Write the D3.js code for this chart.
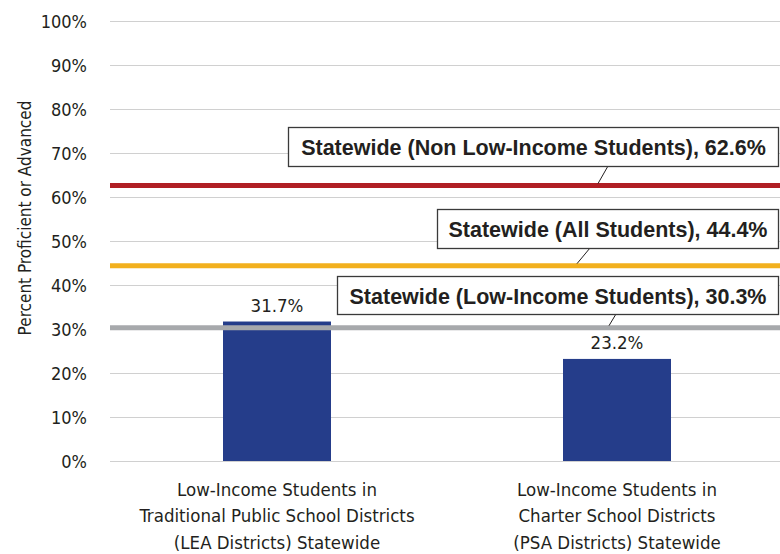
<!DOCTYPE html>
<html><head><meta charset="utf-8">
<script src="https://cdn.jsdelivr.net/npm/d3@7"></script>
<style>
body{margin:0;background:#fff;}
.cond{font-family:"Liberation Sans Narrow","DejaVu Sans Condensed",sans-serif;fill:#231f20;}
.bold{font-family:"Liberation Sans",Arial,sans-serif;font-weight:bold;fill:#231f20;}
</style></head>
<body><svg id="c" width="780" height="554"></svg>
<script>
const categories = [
  ["Low-Income Students in","Traditional Public School Districts","(LEA Districts) Statewide"],
  ["Low-Income Students in","Charter School Districts","(PSA Districts) Statewide"]
];
const barValues = [31.7, 23.2];
const refNames = ["Statewide (Non Low-Income Students)","Statewide (All Students)","Statewide (Low-Income Students)"];
const refValues = [62.6, 44.4, 30.3];
const refColors = ["#b01f24","#f2b01e","#a7a9ac"];
const yTicks = [0,10,20,30,40,50,60,70,80,90,100];

const svg = d3.select("#c");
const y = d3.scaleLinear().domain([0,100]).range([461,21]);
const x = d3.scaleBand().domain(d3.range(categories.length)).range([107,787]);
const bw = 108;

// gridlines
svg.append("g").selectAll("line").data(yTicks).join("line")
  .attr("x1",110).attr("x2",780).attr("y1",d=>Math.round(y(d))+0.5).attr("y2",d=>Math.round(y(d))+0.5)
  .attr("stroke","#d0d0d0").attr("stroke-width",1);

// y axis labels
const yAxis = d3.axisLeft(y).tickValues(yTicks).tickFormat(d=>d+"%").tickSize(0).tickPadding(0);
const ga = svg.append("g").attr("transform","translate(87,0)").call(yAxis);
ga.select(".domain").remove();
ga.selectAll("text").attr("class","cond").attr("font-size",18).attr("dy","0.35em");
ga.attr("font-family",null).attr("font-size",null);

svg.append("text").attr("class","cond").attr("font-size",17)
  .attr("transform","translate(31,218) rotate(-90)").attr("text-anchor","middle")
  .text("Percent Proficient or Advanced");

// bars
svg.append("g").selectAll("rect").data(barValues).join("rect")
  .attr("x",(d,i)=>x(i)+x.bandwidth()/2-bw/2).attr("width",bw)
  .attr("y",d=>y(d)).attr("height",d=>y(0)-y(d)).attr("fill","#253d8a");

svg.append("g").selectAll("text").data(barValues).join("text")
  .attr("class","cond").attr("font-size",18.5).attr("text-anchor","middle")
  .attr("x",(d,i)=>x(i)+x.bandwidth()/2).attr("y",d=>y(d)-10)
  .text(d=>d.toFixed(1)+"%");

// reference lines
svg.append("g").selectAll("line").data(refValues).join("line")
  .attr("x1",110).attr("x2",780).attr("y1",d=>y(d)).attr("y2",d=>y(d))
  .attr("stroke",(d,i)=>refColors[i]).attr("stroke-width",5);

// callouts
const boxes = [
  {x0:288, y0:127, y1:166, lx0:608, lx1:598},
  {x0:437, y0:209, y1:248, lx0:590, lx1:577},
  {x0:337, y0:276, y1:314, lx0:616, lx1:609}
];
refValues.forEach((v,i)=>{
  const b = boxes[i];
  svg.append("line").attr("x1",b.lx0).attr("y1",b.y1).attr("x2",b.lx1).attr("y2",y(v)-2)
    .attr("stroke","#231f20").attr("stroke-width",1);
  svg.append("rect").attr("x",b.x0+0.5).attr("y",b.y0+0.5).attr("width",779-b.x0-1).attr("height",b.y1-b.y0)
    .attr("fill","#fff").attr("stroke","#3a3a3a").attr("stroke-width",1.3);
  svg.append("text").attr("class","bold").attr("font-size",21.5).attr("text-anchor","middle")
    .attr("x",(b.x0+779)/2).attr("y",(b.y0+b.y1)/2+1).attr("dy","0.35em")
    .text(refNames[i]+", "+v.toFixed(1)+"%");
});

// category labels
categories.forEach((lines,i)=>{
  const t = svg.append("text").attr("class","cond").attr("font-size",18.5).attr("text-anchor","middle");
  lines.forEach((l,j)=>t.append("tspan").attr("x",x(i)+x.bandwidth()/2).attr("y",496+j*26.3).text(l));
});
</script></body></html>
